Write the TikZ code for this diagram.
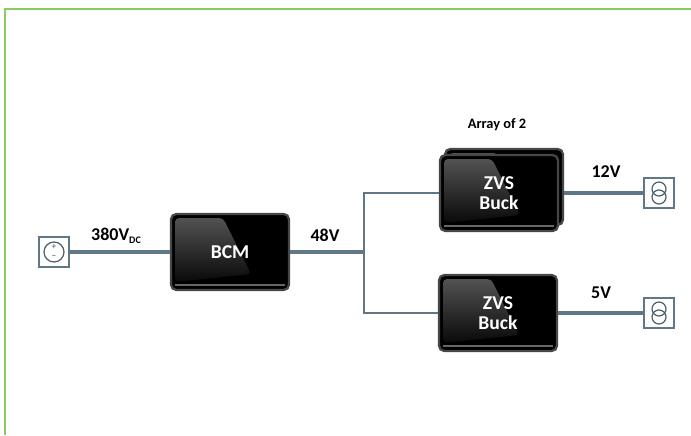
\documentclass[tikz,border=0pt]{standalone}
\usepackage{fontspec}
\setmainfont{Carlito}
\usetikzlibrary{calc}
\definecolor{wire}{HTML}{5F7786}
\definecolor{frame}{HTML}{8CCB62}
\tikzset{
	module/.style = {draw=black!72, line width=1.7pt, rounded corners=4pt, fill=black, minimum width=88.5pt, minimum height=57pt, inner sep=0pt, align=center, text=white, font=\fontsize{14.7}{15}\selectfont\bfseries, path picture={
		\fill[top color=black!66, bottom color=black, rounded corners=3pt] ($(path picture bounding box.north west)+(4,4)$) -- ($(path picture bounding box.north west)+(52,4)$) -- ($(path picture bounding box.north west)+(80,60)$) -- ($(path picture bounding box.south west)+(4,-8)$) -- cycle;
		\draw[black!60, line width=1.1pt] ($(path picture bounding box.south west)+(4,-5)$) -- ($(path picture bounding box.south east)+(-4,-5)$);
	}},
	term/.style = {draw=wire, line width=1.6pt, fill=white, minimum size=22.5pt, inner sep=0pt},
	wirea/.style = {draw=wire, line width=2.4pt},
	wireb/.style = {draw=wire, line width=1.8pt},
	volt/.style = {font=\fontsize{13.5}{14}\selectfont\bfseries, inner sep=0pt},
	sign/.style = {font=\fontsize{7}{7}\selectfont, text=wire!70!black, inner sep=0pt}
}
\begin{document}
\begin{tikzpicture}[x=0.75pt, y=-0.75pt]
	\useasboundingbox (0,0) rectangle (691,435);
	\draw[frame, line width=1.5pt] (5,435) -- (5,9) -- (691,9);
	% modules
	\node[module] (bcm) at (230,252) {BCM};
	\node[module] (zvsback) at (504,187) {};
	\node[module] (zvsa) at (499,193) {ZVS\\Buck};
	\node[module] (zvsb) at (498,313) {ZVS\\Buck};
	% terminals
	\node[term] (src) at (54,252) {};
	\node[term] (loada) at (659,193) {};
	\node[term] (loadb) at (659,313) {};
	\coordinate (junc) at (364,252);
	% connectors
	\draw[wirea] (src) -- (bcm);
	\draw[wirea] (bcm) -- (junc);
	\draw[wireb] (junc) |- (zvsa);
	\draw[wireb] (junc) |- (zvsb);
	\draw[wirea] (zvsback.east |- loada) -- (loada);
	\draw[wirea] (zvsb) -- (loadb);
	% symbols
	\draw[wire!80!black, line width=0.9pt] (src) circle (10);
	\node[sign] (plus) at (54,247) {+};
	\node[sign] (minus) at (54,257) {--};
	\draw[wire!80!black, line width=0.9pt] ($(loada)+(0,-4)$) circle (7) ($(loada)+(0,4)$) circle (7);
	\draw[wire!80!black, line width=0.9pt] ($(loadb)+(0,-4)$) circle (7) ($(loadb)+(0,4)$) circle (7);
	% labels
	\node[volt] (vin) at (116,236) {380V\raisebox{-2.5pt}{\fontsize{7.5}{8}\selectfont DC}};
	\node[volt] (vbus) at (325,235) {48V};
	\node[volt] (va) at (606,172) {12V};
	\node[volt] (vb) at (601,293) {5V};
	\node[volt, font=\fontsize{10.8}{12}\selectfont\bfseries] (arr) at (497,125) {Array of 2};
\end{tikzpicture}
\end{document}
